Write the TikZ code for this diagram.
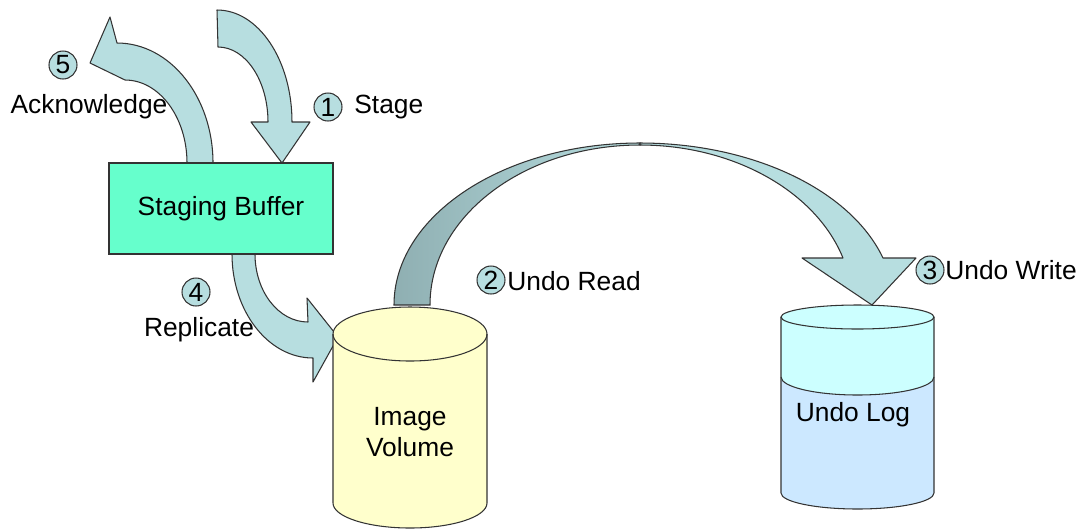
\documentclass[tikz,border=0pt]{standalone}
\usepackage{fontspec}
\setmainfont{Liberation Sans}
\usepackage{xcolor}
\usepackage{tikz}
\usetikzlibrary{positioning}
\definecolor{bufgreen}{RGB}{102,255,204}
\definecolor{arrowblue}{RGB}{183,222,224}
\definecolor{arrowdark}{RGB}{143,175,178}
\definecolor{volyellow}{RGB}{255,255,204}
\definecolor{logtop}{RGB}{204,255,255}
\definecolor{logbottom}{RGB}{204,232,255}

\begin{document}
\begin{tikzpicture}[x=0.02cm, y=-0.02cm, line width=0.6pt,
        every node/.style={font=\fontsize{15}{18}\selectfont},
        blockarrow/.style={draw=black!80, fill=arrowblue, line join=round},
        stepnum/.style={circle, draw=black!80, fill=arrowblue, minimum size=0.56cm, inner sep=0pt}]
    \useasboundingbox (0,0) rectangle (1086,529);

    % Stage arrow (comes in from the top)
    \draw[blockarrow] (217,10) .. controls (258.4,10) and (292,60.1) .. (292,122)
        -- (310,122) -- (282,163) -- (251,122) -- (268,122)
        .. controls (268,80.6) and (245.6,47) .. (218,47) -- cycle;

    % Acknowledge arrow (goes back out)
    \draw[blockarrow] (213,163) .. controls (213,96.7) and (170,43) .. (117,43)
        -- (110,17) -- (90,63) -- (125,80)
        .. controls (159.2,80) and (187,117.2) .. (187,163) -- cycle;

    % Replicate arrow
    \draw[blockarrow] (232,254) .. controls (232,311.4) and (268.3,358) .. (313,358)
        -- (313,382) -- (338,337) -- (307,298) -- (308,322)
        .. controls (278.7,322) and (255,291.6) .. (255,254) -- cycle;

    % Undo arrow: shaded back half, then front half with the head
    \draw[draw=black!80, left color=arrowdark, middle color=arrowdark!85!arrowblue, right color=arrowblue]
        (394,305) .. controls (394,215.5) and (504.1,143) .. (640,143)
        -- (640,145) .. controls (524,145) and (430,216.6) .. (430,305) -- cycle;
    \draw[blockarrow] (640,143) .. controls (751.9,143) and (850.6,189.7) .. (883,258)
        -- (916,258) -- (872,305) -- (802,258) -- (843,258)
        .. controls (815.7,190.9) and (732.9,145) .. (640,145) -- cycle;

    % Staging buffer
    \node[draw=black!80, fill=bufgreen, minimum width=4.48cm, minimum height=1.82cm] (buffer) at (221,208.5) {Staging Buffer};

    % Image volume cylinder
    \draw[draw=black!80, fill=volyellow] (333,334) -- (333,503)
        .. controls (333,516.8) and (367.5,528) .. (410,528)
        .. controls (452.5,528) and (487,516.8) .. (487,503) -- (487,334)
        .. controls (487,319.1) and (452.5,307) .. (410,307)
        .. controls (367.5,307) and (333,319.1) .. cycle;
    \draw[draw=black!80] (333,334) .. controls (333,348.9) and (367.5,361) .. (410,361)
        .. controls (452.5,361) and (487,348.9) .. (487,334);
    \node[align=center] (volume) at (410,432) {Image\\Volume};

    % Undo log cylinder, two fill levels
    \fill[logtop] (781,317) -- (781,377)
        .. controls (781,386.9) and (815.3,395) .. (857.5,395)
        .. controls (899.7,395) and (934,386.9) .. (934,377) -- (934,317) -- cycle;
    \fill[logbottom] (781,377) .. controls (781,386.9) and (815.3,395) .. (857.5,395)
        .. controls (899.7,395) and (934,386.9) .. (934,377) -- (934,493)
        .. controls (934,501.8) and (899.7,509) .. (857.5,509)
        .. controls (815.3,509) and (781,501.8) .. (781,493) -- cycle;
    \draw[draw=black!80, fill=logtop] (781,317) .. controls (781,310.4) and (815.3,305) .. (857.5,305)
        .. controls (899.7,305) and (934,310.4) .. (934,317)
        .. controls (934,323.6) and (899.7,329) .. (857.5,329)
        .. controls (815.3,329) and (781,323.6) .. cycle;
    \draw[draw=black!80] (781,317) -- (781,493)
        .. controls (781,501.8) and (815.3,509) .. (857.5,509)
        .. controls (899.7,509) and (934,501.8) .. (934,493) -- (934,317);
    \draw[draw=black!80] (781,377) .. controls (781,386.9) and (815.3,395) .. (857.5,395)
        .. controls (899.7,395) and (934,386.9) .. (934,377);
    \node (log) at (853,415) {Undo Log};

    % Step numbers and labels
    \node[stepnum] (n1) at (328,107) {1};
    \node[anchor=west] (stage) at (348,107) {Stage};
    \node[stepnum] (n2) at (491,280) {2};
    \node[anchor=west] (read) at (501,281) {Undo Read};
    \node[stepnum] (n3) at (930,270) {3};
    \node[anchor=west] (write) at (939,270) {Undo Write};
    \node[stepnum] (n4) at (196,292) {4};
    \node (repl) at (199,330) {Replicate};
    \node[stepnum] (n5) at (63,65) {5};
    \node (ack) at (89,107) {Acknowledge};
\end{tikzpicture}
\end{document}
